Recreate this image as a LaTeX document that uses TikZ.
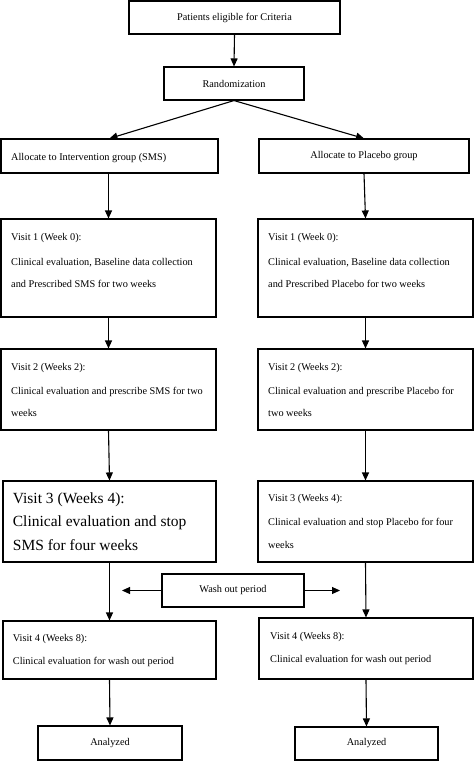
\documentclass[tikz,border=0pt]{standalone}
\usepackage{fontspec}
\setmainfont{Liberation Serif}
\usetikzlibrary{arrows.meta}
\newcommand\mybox[6]{\node[box,minimum width=#4pt,minimum height=#5pt] (#1) at (#2,#3) {#6};}
\newcommand\myline[4]{\node[txt] (#1) at (#2,#3) {#4};}
\newcommand\mybig[4]{\node[bigtxt] (#1) at (#2,#3) {#4};}
\begin{document}
\begin{tikzpicture}[x=1pt,y=-1pt,
 box/.style={draw,line width=1.1pt,inner sep=0pt,font=\fontsize{10.3}{12}\selectfont},
 txt/.style={anchor=base west,inner sep=0pt,font=\fontsize{10.3}{12}\selectfont},
 bigtxt/.style={anchor=base west,inner sep=0pt,font=\fontsize{15.5}{18}\selectfont},
 arr/.style={line width=1.1pt,-{Triangle[length=8pt,width=7pt]}}]
\useasboundingbox[fill=white] (0,0) rectangle (474,761);
% boxes
\mybox{pat}{234.5}{17.5}{211}{33}{Patients eligible for Criteria}
\mybox{rand}{234}{83.5}{140}{33}{Randomization}
\mybox{allocL}{109.5}{156}{217}{34}{}
\mybox{allocR}{364}{156}{210}{34}{Allocate to Placebo group}
\mybox{vaL}{108.5}{268}{215}{98}{}
\mybox{vaR}{365.5}{268}{215}{98}{}
\mybox{vbL}{108.5}{389.5}{215}{81}{}
\mybox{vbR}{365.5}{389.5}{215}{81}{}
\mybox{vcL}{109.5}{521.5}{213}{81}{}
\mybox{vcR}{365.5}{521.5}{215}{81}{}
\mybox{wash}{233}{590.5}{142}{33}{Wash out period}
\mybox{vdL}{109.5}{650}{213}{58}{}
\mybox{vdR}{366}{648.5}{214}{61}{}
\mybox{anL}{110}{743}{144}{34}{Analyzed}
\mybox{anR}{366.5}{743.5}{143}{33}{Analyzed}
% texts
\myline{tal}{11}{160}{Allocate to Intervention group (SMS)}
\myline{taL1}{11}{240.2}{Visit 1 (Week 0):}
\myline{taL2}{11}{265.2}{Clinical evaluation, Baseline data collection}
\myline{taL3}{11}{287.5}{and Prescribed SMS for two weeks}
\myline{taR1}{268}{240.2}{Visit 1 (Week 0):}
\myline{taR2}{268}{265.2}{Clinical evaluation, Baseline data collection}
\myline{taR3}{268}{287.5}{and Prescribed Placebo for two weeks}
\myline{tbL1}{11}{370.2}{Visit 2 (Weeks 2):}
\myline{tbL2}{11}{394.5}{Clinical evaluation and prescribe SMS for two}
\myline{tbL3}{11}{416.8}{weeks}
\myline{tbR1}{268}{370.2}{Visit 2 (Weeks 2):}
\myline{tbR2}{268}{394.5}{Clinical evaluation and prescribe Placebo for}
\myline{tbR3}{268}{416.8}{two weeks}
\mybig{tcL1}{12.7}{503.3}{Visit 3 (Weeks 4):}
\mybig{tcL2}{12.7}{526.7}{Clinical evaluation and stop}
\mybig{tcL3}{12.7}{550}{SMS for four weeks}
\myline{tcR1}{268}{501.8}{Visit 3 (Weeks 4):}
\myline{tcR2}{268}{525.2}{Clinical evaluation and stop Placebo for four}
\myline{tcR3}{268}{548.5}{weeks}
\myline{tdL1}{12.7}{641.2}{Visit 4 (Weeks 8):}
\myline{tdL2}{12.7}{664.5}{Clinical evaluation for wash out period}
\myline{tdR1}{270}{639.2}{Visit 4 (Weeks 8):}
\myline{tdR2}{270}{662.5}{Clinical evaluation for wash out period}
% connectors
\coordinate (wl) at (122,590.5);
\coordinate (wr) at (340,590.5);
\draw[arr] (pat.south) -- (rand.north);
\draw[arr] (rand.south) -- (allocL.north);
\draw[arr] (rand.south) -- (allocR.north);
\draw[arr] (vaL.north |- allocL.south) -- (vaL.north);
\draw[arr] (allocR.south) -- (vaR.north);
\draw[arr] (vaL.south) -- (vbL.north);
\draw[arr] (vaR.south) -- (vbR.north);
\draw[arr] (vbL.south) -- (vcL.north);
\draw[arr] (vbR.south) -- (vcR.north);
\draw[arr] (vcL.south) -- (vdL.north);
\draw[arr] (vcR.south) -- (vdR.north);
\draw[arr] (wash.west) -- (wl);
\draw[arr] (wash.east) -- (wr);
\draw[arr] (vdL.south) -- (anL.north);
\draw[arr] (vdR.south) -- (anR.north);
\end{tikzpicture}
\end{document}
